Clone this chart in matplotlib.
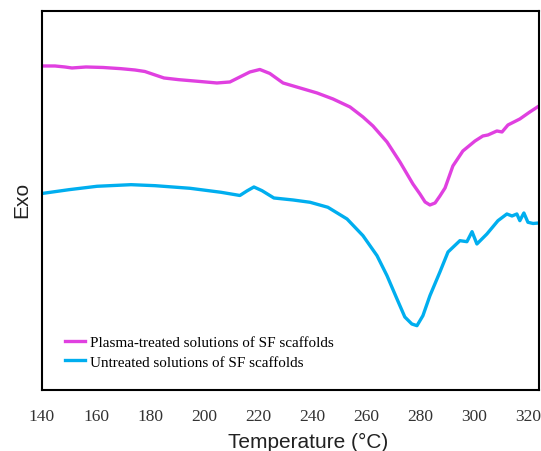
import matplotlib
matplotlib.use("Agg")
import matplotlib.pyplot as plt

# DSC traces (temperature in C, exo signal in arbitrary units)
t_plasma = [140.0, 144.8, 148.5, 151.1, 156.3, 162.6, 169.3, 174.4, 178.1, 181.9, 185.2, 190.7,
            198.5, 204.8, 209.6, 213.3, 217.0, 220.7, 224.4, 229.3, 235.6, 241.9, 247.8, 254.1,
            258.9, 262.6, 267.8, 272.6, 277.4, 280.0, 281.9, 283.7, 285.6, 287.4, 289.3, 292.2,
            295.9, 300.4, 303.3, 305.2, 308.5, 310.4, 312.6, 317.0, 320.7, 324.1]
v_plasma = [32.4, 32.4, 32.3, 32.2, 32.3, 32.25, 32.13, 32.0, 31.85, 31.5, 31.2, 31.03,
            30.85, 30.7, 30.8, 31.3, 31.8, 32.05, 31.65, 30.7, 30.2, 29.7, 29.1, 28.3,
            27.3, 26.4, 24.8, 22.8, 20.6, 19.6, 18.8, 18.5, 18.7, 19.4, 20.2, 22.4,
            23.9, 24.9, 25.4, 25.5, 25.9, 25.8, 26.5, 27.1, 27.8, 28.4]

t_untreated = [140.0, 150.0, 160.4, 173.0, 181.9, 194.8, 206.3, 213.3, 215.9, 218.5, 221.5, 225.9,
               233.0, 239.3, 245.9, 253.0, 258.9, 264.1, 267.8, 271.5, 274.4, 277.0, 278.9, 281.1,
               283.7, 287.4, 290.4, 294.8, 297.4, 299.3, 301.1, 304.8, 308.9, 312.2, 314.1, 315.9,
               317.0, 318.5, 320.0, 321.9, 324.1]
v_untreated = [19.65, 20.03, 20.37, 20.53, 20.43, 20.17, 19.77, 19.45, 19.9, 20.3, 19.93, 19.2,
               19.0, 18.77, 18.27, 17.1, 15.43, 13.43, 11.43, 9.1, 7.3, 6.6, 6.43, 7.43,
               9.43, 11.8, 13.8, 14.93, 14.83, 15.83, 14.6, 15.6, 16.93, 17.6, 17.4, 17.6,
               16.93, 17.7, 16.77, 16.65, 16.7]

labels = ["Plasma-treated solutions of SF scaffolds", "Untreated solutions of SF scaffolds"]
xticks = [140, 160, 180, 200, 220, 240, 260, 280, 300, 320]

fig = plt.figure(figsize=(5.41, 4.52), dpi=100)
ax = fig.add_axes([0.0776, 0.135, 0.9187, 0.8385])

ax.plot(t_plasma, v_plasma, color="#e040e0", lw=2.4, solid_joinstyle="round", label=labels[0])
ax.plot(t_untreated, v_untreated, color="#00aeef", lw=2.4, solid_joinstyle="round", label=labels[1])

ax.set_xlim(140, 324.1); ax.set_ylim(0, 37.9)
ax.set_xticks(xticks); ax.set_xticklabels([str(t) for t in xticks], family="Liberation Serif", fontsize=12.5, color="#333")
ax.set_yticks([])
ax.tick_params(axis="x", length=0, pad=13)
for s in ax.spines.values(): s.set_linewidth(1.5)

ax.set_xlabel("Temperature (°C)", family="Liberation Sans", fontsize=15, color="#222")
ax.xaxis.set_label_coords(0.535, -0.112)
ax.set_ylabel("Exo", family="Liberation Sans", fontsize=15, color="#222")
ax.yaxis.set_label_coords(-0.022, 0.504)

ax.legend(loc="lower left", bbox_to_anchor=(0.046, 0.056), frameon=False, borderpad=0, borderaxespad=0,
          handlelength=1.35, handletextpad=0.3, labelspacing=0.42,
          prop={"family": "Liberation Serif", "size": 10.9})

fig.savefig("out.png", dpi=100)
